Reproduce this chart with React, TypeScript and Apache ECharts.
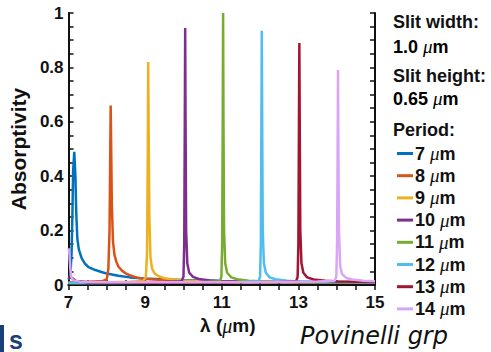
import React, { useEffect, useRef } from "react";
import * as echarts from "echarts";

// Period values (legend) and colours
const periods = ["7", "8", "9", "10", "11", "12", "13", "14"];
const colors = ["#0072BD", "#D95319", "#EDB120", "#7E2F8E", "#77AC30", "#4DBEEE", "#A2142F", "#D9A6F7"];

// Absorptivity spectra, [wavelength (µm), absorptivity]
const p7 = [[7.0,0.02],[7.05,0.04],[7.08,0.12],[7.1,0.25],[7.12,0.42],[7.15,0.49],[7.18,0.4],[7.2,0.27],[7.23,0.17],[7.27,0.13],[7.34,0.1],[7.42,0.08],[7.52,0.066],[7.7,0.055],[7.86,0.048],[8.0,0.042],[8.3,0.034],[8.6,0.028],[9.0,0.024],[9.5,0.02],[10,0.018],[11,0.015],[12,0.013],[13,0.012],[14,0.011],[15,0.01]];
const p8 = [[7.0,0.01],[7.5,0.012],[7.9,0.015],[8.0,0.022],[8.04,0.06],[8.07,0.2],[8.09,0.5],[8.1,0.66],[8.11,0.55],[8.13,0.3],[8.16,0.16],[8.2,0.11],[8.25,0.085],[8.3,0.068],[8.4,0.052],[8.5,0.042],[8.65,0.033],[8.8,0.027],[9.0,0.022],[9.5,0.018],[10,0.015],[11,0.013],[12,0.012],[13,0.011],[15,0.01]];
const p9 = [[7.0,0.008],[8.0,0.01],[8.6,0.012],[8.95,0.015],[9.02,0.03],[9.05,0.12],[9.07,0.5],[9.08,0.82],[9.09,0.6],[9.11,0.25],[9.14,0.1],[9.18,0.06],[9.25,0.042],[9.35,0.032],[9.5,0.025],[9.75,0.02],[10,0.017],[11,0.013],[12,0.011],[13,0.01],[15,0.009]];
const p10 = [[7,0.007],[8,0.008],[9.5,0.011],[9.95,0.014],[10.0,0.03],[10.02,0.15],[10.035,0.6],[10.045,0.945],[10.055,0.6],[10.07,0.2],[10.1,0.08],[10.15,0.045],[10.25,0.03],[10.4,0.022],[10.7,0.017],[11,0.014],[12,0.011],[13,0.01],[15,0.009]];
const p11 = [[7,0.007],[9,0.008],[10.5,0.011],[10.95,0.014],[10.99,0.03],[11.01,0.15],[11.025,0.6],[11.035,1.0],[11.045,0.6],[11.06,0.2],[11.09,0.08],[11.14,0.045],[11.25,0.028],[11.4,0.021],[11.7,0.016],[12,0.014],[13,0.011],[15,0.009]];
const p12 = [[7,0.007],[10,0.008],[11.5,0.011],[11.96,0.014],[12.0,0.03],[12.02,0.15],[12.035,0.6],[12.045,0.935],[12.055,0.6],[12.07,0.2],[12.1,0.08],[12.15,0.045],[12.25,0.028],[12.4,0.021],[12.7,0.016],[13,0.013],[14,0.011],[15,0.009]];
const p13 = [[7.0,0.03],[7.1,0.025],[7.2,0.015],[7.5,0.01],[9,0.008],[11,0.009],[12.5,0.011],[12.94,0.014],[12.98,0.03],[13.0,0.15],[13.015,0.6],[13.025,0.89],[13.035,0.6],[13.05,0.2],[13.08,0.08],[13.13,0.045],[13.23,0.028],[13.4,0.02],[13.7,0.016],[14,0.013],[15,0.011]];
const p14 = [[7.0,0.135],[7.02,0.12],[7.04,0.07],[7.07,0.03],[7.12,0.018],[7.3,0.012],[8,0.01],[10,0.01],[12,0.011],[13.5,0.013],[13.95,0.016],[13.99,0.03],[14.01,0.15],[14.025,0.5],[14.035,0.79],[14.045,0.5],[14.06,0.2],[14.09,0.07],[14.14,0.04],[14.25,0.026],[14.4,0.02],[14.7,0.016],[15,0.014]];
const spectra = [p7, p8, p9, p10, p11, p12, p13, p14];

const SANS = "Liberation Sans, Arial, Helvetica, sans-serif";
const SERIF = "Liberation Serif, Times New Roman, serif";

const rich = {
  b: { fontFamily: SANS, fontWeight: "bold", fontSize: 18, color: "#111", lineHeight: 18 },
  i: { fontFamily: SERIF, fontStyle: "italic", fontSize: 19, color: "#111", lineHeight: 18 },
};

export default function App() {
  const ref = useRef<HTMLDivElement>(null);
  useEffect(() => {
    const chart = echarts.init(ref.current!, null, { renderer: "svg" });
    const axisLine = { show: true, lineStyle: { color: "#111", width: 2 } };
    const tick = { show: true, inside: true, length: 5, lineStyle: { color: "#111", width: 1.5 } };
    const labelStyle = { fontFamily: SANS, fontWeight: "bold" as const, fontSize: 17, color: "#111" };
    chart.setOption({
      animation: false,
      backgroundColor: "#fff",
      grid: { left: 67, right: 116, top: 13, bottom: 67, containLabel: false },
      xAxis: [
        {
          type: "value", min: 7, max: 15, interval: 0.5, position: "bottom",
          axisLine, axisTick: tick, splitLine: { show: false },
          axisLabel: {
            ...labelStyle, margin: 9,
            formatter: (v: number) => {
              const r = Math.round(v);
              return Math.abs(v - r) < 1e-6 && r % 2 === 1 ? String(r) : "";
            },
          },
          name: "{b|λ (}{i|μ}{b|m)}",
          nameLocation: "middle", nameGap: 21,
          nameTextStyle: { padding: [0, 0, 0, 12], rich: { b: { ...rich.b, fontSize: 19 }, i: { ...rich.i, fontSize: 20 } } },
        },
        {
          type: "value", min: 7, max: 15, interval: 0.5, position: "top",
          axisLine, axisTick: tick, axisLabel: { show: false }, splitLine: { show: false },
        },
      ],
      yAxis: [
        {
          type: "value", min: 0, max: 1, interval: 0.05, position: "left",
          axisLine, axisTick: tick, splitLine: { show: false },
          axisLabel: {
            ...labelStyle, margin: 5,
            formatter: (v: number) => {
              const r = Math.round(v * 100);
              return r % 20 === 0 ? String(r / 100) : "";
            },
          },
          name: "Absorptivity", nameLocation: "middle", nameGap: 30, nameRotate: 90,
          nameTextStyle: { fontFamily: SANS, fontWeight: "bold", fontSize: 21, color: "#111" },
        },
        {
          type: "value", min: 0, max: 1, interval: 0.05, position: "right",
          axisLine, axisTick: tick, axisLabel: { show: false }, splitLine: { show: false },
        },
      ],
      legend: {
        orient: "vertical", left: 392, top: 139,
        itemWidth: 16, itemHeight: 3, itemGap: 3.2, icon: "rect",
        data: periods.map((p) => p + " μm"),
        formatter: (name: string) => `{b|${name.split(" ")[0]} }{i|μ}{b|m}`,
        textStyle: { rich, padding: [0, 0, 0, -3] },
        selectedMode: false,
      },
      series: spectra.map((d, k) => ({
        name: periods[k] + " μm",
        type: "line",
        data: d,
        showSymbol: false,
        symbol: "none",
        smooth: false,
        color: colors[k],
        lineStyle: { width: 2.5, color: colors[k] },
        xAxisIndex: 0, yAxisIndex: 0,
        z: 2 + k,
      })),
      graphic: [
        { type: "text", left: 393, top: 13, style: { text: "Slit width:", font: `bold 18px ${SANS}`, fill: "#111" } },
        { type: "text", left: 393, top: 37, style: { text: "{b|1.0 }{i|μ}{b|m}", rich } },
        { type: "text", left: 393, top: 67, style: { text: "Slit height:", font: `bold 18px ${SANS}`, fill: "#111" } },
        { type: "text", left: 393, top: 89, style: { text: "{b|0.65 }{i|μ}{b|m}", rich } },
        { type: "text", left: 393, top: 121, style: { text: "Period:", font: `bold 18px ${SANS}`, fill: "#111" } },
        { type: "text", left: 300, top: 324, style: { text: "Povinelli grp", font: `italic 24px DejaVu Sans, sans-serif`, fill: "#111" } },
        { type: "rect", shape: { x: 0, y: 325, width: 4, height: 27 }, style: { fill: "#1b3f78" } },
        { type: "text", x: 9, y: 327, style: { text: "s", font: `bold 25px ${SANS}`, fill: "#1b3f78" } },
      ],
    });
    return () => chart.dispose();
  }, []);
  return <div ref={ref} style={{ width: 491, height: 352, position: "absolute", left: 0, top: 0 }} />;
}
